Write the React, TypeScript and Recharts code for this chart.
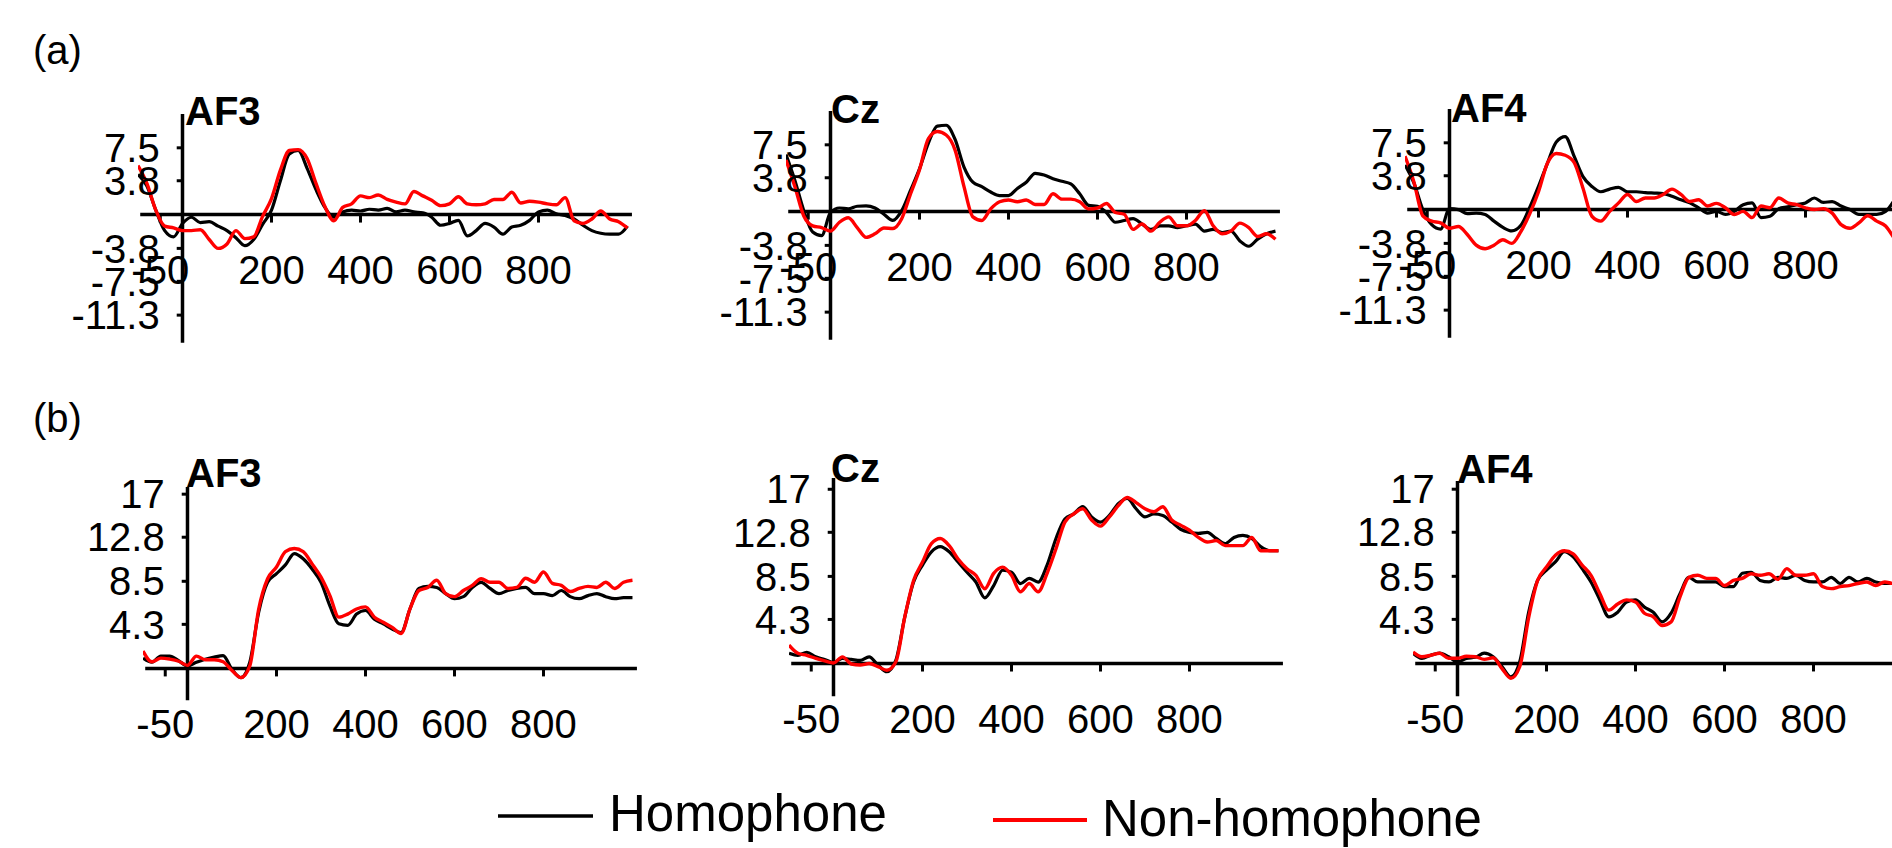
import React from 'react';
import { LineChart, Line, XAxis, YAxis, ReferenceLine } from 'recharts';

// time points (ms)
const times = [
  -100, -80, -60, -40, -20, 0, 20, 40,
  60, 80, 100, 120, 140, 160, 180, 200,
  220, 240, 260, 280, 300, 320, 340, 360,
  380, 400, 420, 440, 460, 480, 500, 520,
  540, 560, 580, 600, 620, 640, 660, 680,
  700, 720, 740, 760, 780, 800, 820, 840,
  860, 880, 900, 920, 940, 960, 980, 1000,
];

// (a) row
const aAF3Hom = [
  4.5, 3.2, 0.5, -1.8, -2.5, -1.0, -0.3, -0.9,
  -0.8, -1.3, -1.8, -2.6, -3.5, -2.8, -1.1, 0.5,
  3.8, 6.8, 7.2, 5.2, 2.8, 0.8, -0.3, 0.3,
  0.5, 0.4, 0.6, 0.5, 0.7, 0.3, 0.5, 0.3,
  0.2, -0.3, -1.2, -1.0, -0.65, -2.4, -1.8, -1.0,
  -1.4, -2.2, -1.4, -1.2, -0.65, 0.3, 0.5, 0.1,
  -0.1, -0.5, -1.2, -1.8, -2.1, -2.2, -2.2, -1.3,
];
const aAF3Non = [
  5.5, 3.5, 0.5, -1.3, -1.5, -1.8, -1.8, -1.7,
  -2.8, -3.8, -3.3, -1.8, -2.7, -2.5, -0.2, 1.8,
  5.0, 7.2, 7.3, 6.3, 3.5, 0.9, -0.7, 0.8,
  1.2, 2.1, 1.9, 2.2, 1.7, 1.4, 1.2, 2.6,
  2.1, 1.6, 1.0, 1.2, 2.0, 1.2, 1.1, 1.2,
  1.7, 1.7, 2.5, 1.3, 1.5, 1.4, 1.2, 1.1,
  1.9, -0.7, -1.0, -0.5, 0.4, -0.5, -0.8, -1.5,
];
const aCzHom = [
  6.4, 3.5, 0.1, -2.3, -2.7, -0.1, 0.4, 0.3,
  0.6, 0.65, 0.4, -0.3, -1.0, 0.1, 2.4, 4.8,
  7.7, 9.6, 9.7, 8.1, 5.0, 3.3, 2.8, 2.2,
  1.8, 1.8, 2.6, 3.3, 4.3, 4.1, 3.7, 3.4,
  3.1, 2.0, 0.7, 0.6, -0.1, -1.2, -1.0, -0.8,
  -1.4, -2.0, -1.6, -1.6, -1.8, -1.6, -1.4, -2.2,
  -2.0, -2.35, -2.2, -3.3, -3.9, -3.1, -2.5, -2.2,
];
const aCzNon = [
  5.8, 2.8, -0.5, -1.6, -1.8, -2.2, -1.2, -0.7,
  -1.8, -2.9, -2.5, -1.85, -1.9, -0.8, 2.0, 4.7,
  8.2, 9.0, 8.6, 6.9, 2.8, -0.6, -1.0, 0.3,
  1.1, 1.3, 1.1, 1.3, 0.8, 0.8, 2.0, 1.4,
  1.4, 1.1, 0.3, 0.4, 0.9, -0.1, -0.3, -2.0,
  -1.4, -2.2, -1.2, -0.6, -1.6, -1.6, -1.0, 0.1,
  -1.6, -2.5, -2.2, -1.3, -1.8, -2.8, -2.5, -3.1,
];
const aAF4Hom = [
  5.0, 3.0, 0.0, -1.7, -2.2, 0.1, 0.0, -0.45,
  -0.4, -0.55, -1.3, -2.0, -2.4, -1.8, 0.2, 2.6,
  5.2, 7.6, 8.2, 6.0, 3.7, 2.6, 2.0, 2.3,
  2.5, 2.0, 2.0, 1.9, 1.85, 1.8, 1.5, 1.1,
  0.75, 0.2, -0.4, -0.2, -0.55, -0.2, 0.55, 0.75,
  -0.9, -0.75, 0.1, 0.3, 0.55, 0.75, 1.3, 0.8,
  0.9, 0.4, 0.0, -0.55, -0.55, -0.55, -0.2, 1.1,
];
const aAF4Non = [
  6.0, 3.1, -0.7, -1.3, -1.5, -2.1, -1.9, -2.8,
  -4.0, -4.4, -4.0, -3.4, -3.8, -2.5, -0.5, 2.0,
  5.2, 6.3, 6.1, 5.3, 2.4, -0.75, -1.3, -0.2,
  0.75, 1.7, 0.9, 1.3, 1.3, 1.7, 2.3, 1.7,
  0.9, 1.1, 0.4, 0.7, 0.2, -0.55, -0.2, -0.9,
  0.4, 0.2, 1.3, 0.75, 0.55, 0.2, 0.0, 0.1,
  -0.4, -1.7, -2.1, -1.5, -0.7, -1.3, -1.85, -3.3,
];

// (b) row
const bAF3Hom = [
  1.0, 0.6, 1.2, 1.2, 0.75, 0.25, 0.6, 0.9,
  1.1, 1.25, -0.1, -0.9, 0.6, 5.5, 8.4, 9.25,
  10.1, 11.2, 10.7, 9.7, 8.4, 6.1, 4.35, 4.2,
  5.3, 5.65, 4.8, 4.35, 3.85, 3.5, 5.8, 7.8,
  8.0, 7.9, 7.3, 6.8, 7.0, 7.9, 8.4, 7.8,
  7.3, 7.6, 7.8, 7.9, 7.3, 7.3, 7.1, 7.6,
  7.0, 6.8, 7.1, 7.3, 7.0, 6.8, 6.9, 6.9,
];
const bAF3Non = [
  1.7, 0.65, 1.0, 0.9, 0.7, 0.3, 1.2, 0.85,
  0.85, 0.65, -0.2, -0.9, 0.25, 5.8, 8.75, 9.9,
  11.4, 11.7, 11.4, 10.2, 8.9, 7.1, 5.0, 5.3,
  5.8, 6.0, 5.0, 4.5, 4.0, 3.4, 5.8, 7.6,
  7.9, 8.6, 7.3, 7.0, 7.6, 8.1, 8.75, 8.4,
  8.4, 7.8, 7.9, 8.8, 8.4, 9.4, 8.3, 8.1,
  7.5, 7.8, 8.0, 7.9, 8.4, 7.8, 8.4, 8.6,
];
const bCzHom = [
  1.0, 0.8, 1.1, 0.65, 0.4, 0.1, 0.5, 0.4,
  0.3, 0.65, -0.15, -0.8, 0.3, 4.5, 7.95, 9.6,
  10.9, 11.4, 10.9, 9.9, 8.9, 7.95, 6.4, 7.6,
  9.1, 8.9, 7.8, 8.3, 7.95, 9.6, 12.2, 14.1,
  14.6, 15.3, 14.3, 13.8, 14.45, 15.6, 16.1, 15.1,
  14.3, 14.6, 14.45, 13.8, 13.1, 12.8, 12.7, 12.8,
  12.2, 11.7, 12.3, 12.5, 12.2, 11.4, 11.0, 11.0,
];
const bCzNon = [
  1.8, 1.0, 0.8, 0.5, 0.25, 0.05, 0.65, -0.05,
  -0.15, 0.0, -0.3, -0.65, 0.15, 4.5, 8.1, 9.9,
  11.7, 12.2, 11.5, 10.2, 9.25, 8.6, 7.3, 8.8,
  9.4, 8.6, 7.0, 7.8, 7.0, 8.8, 11.2, 13.8,
  14.6, 15.1, 14.0, 13.4, 14.3, 15.4, 16.2, 15.7,
  15.1, 14.8, 15.3, 14.0, 13.5, 13.0, 12.3, 11.85,
  12.0, 11.5, 11.5, 11.5, 12.3, 11.0, 11.0, 11.0,
];
const bAF4Hom = [
  1.0, 0.5, 0.8, 1.0, 0.65, 0.15, 0.5, 0.6,
  1.0, 0.65, -0.3, -1.3, 0.2, 5.0, 8.1, 9.1,
  9.9, 10.9, 10.4, 9.25, 7.95, 6.2, 4.55, 5.0,
  6.0, 6.2, 5.5, 5.0, 4.05, 4.9, 6.8, 8.4,
  7.95, 7.95, 7.95, 7.5, 7.5, 8.8, 8.9, 8.1,
  7.95, 8.4, 8.3, 8.6, 8.1, 7.95, 7.95, 8.4,
  7.8, 8.4, 7.95, 8.3, 7.95, 7.8, 7.8, 7.8,
];
const bAF4Non = [
  1.1, 0.65, 0.8, 1.0, 0.5, 0.5, 0.7, 0.65,
  0.4, 0.55, -0.5, -1.45, -0.3, 4.5, 8.1, 9.4,
  10.55, 11.0, 10.7, 9.6, 8.6, 6.8, 5.2, 5.8,
  6.2, 6.0, 4.9, 4.55, 3.7, 4.05, 6.5, 8.4,
  8.6, 8.3, 8.3, 7.6, 8.1, 8.3, 8.75, 8.6,
  8.75, 8.2, 9.25, 8.6, 8.6, 8.75, 7.5, 7.3,
  7.5, 7.6, 7.8, 7.95, 7.6, 7.95, 7.8, 7.8,
];

const xTicks = [-50, 200, 400, 600, 800];
const yTicksA = [7.5, 3.8, -3.8, -7.5, -11.3];
const yTicksB = [17, 12.8, 8.5, 4.3];
const channels = ['AF3', 'Cz', 'AF4'];
const seriesNames = ['Homophone', 'Non-homophone'];

const FONT = '"Liberation Sans", Arial, Helvetica, sans-serif';
const RED = '#ff0000';
const MS_PX = 0.445;
const X_MIN = -100;
const X_MAX = 1010;
const PLOT_W = (X_MAX - X_MIN) * MS_PX;
const M = { top: 30, right: 10, bottom: 80, left: 100 };

type Layout = { x0: number; zero: number; top: number; bottom: number; unit: number; titleX: number; titleY: number };

const layoutA: Layout[] = [
  { x0: 182, zero: 215, top: 11.3, bottom: -14.4, unit: 8.9, titleX: 185, titleY: 125 },
  { x0: 830, zero: 211.7, top: 11.3, bottom: -14.4, unit: 8.9, titleX: 831, titleY: 123 },
  { x0: 1449, zero: 210, top: 11.3, bottom: -14.4, unit: 8.9, titleX: 1451, titleY: 122 },
];
const layoutB: Layout[] = [
  { x0: 187, zero: 668.8, top: 17.7, bottom: -3.1, unit: 10.25, titleX: 186, titleY: 487 },
  { x0: 833, zero: 663.7, top: 18.1, bottom: -3.2, unit: 10.25, titleX: 831, titleY: 482 },
  { x0: 1457, zero: 663.3, top: 17.8, bottom: -3.2, unit: 10.25, titleX: 1457, titleY: 483 },
];

const labelStyle = { fill: '#000', fontSize: 40, fontFamily: FONT };

function Panel({ hom, non, yTicks, lay }: { hom: number[]; non: number[]; yTicks: number[]; lay: Layout }) {
  const data = times.map((t, i) => ({ t, hom: hom[i], non: non[i] }));
  const plotH = (lay.top - lay.bottom) * lay.unit;
  const left = lay.x0 + X_MIN * MS_PX - M.left;
  const top = lay.zero - lay.top * lay.unit - M.top;
  const tickDown = 8 / lay.unit;

  return (
    <div style={{ position: 'absolute', left, top }}>
      <LineChart width={PLOT_W + M.left + M.right} height={plotH + M.top + M.bottom} data={data} margin={M}>
        <XAxis type="number" dataKey="t" domain={[X_MIN, X_MAX]} allowDataOverflow hide />
        <YAxis type="number" domain={[lay.bottom, lay.top]} allowDataOverflow hide />
        <ReferenceLine
          segment={[{ x: -95, y: 0 }, { x: X_MAX, y: 0 }]}
          stroke="#000"
          strokeWidth={3.5}
          ifOverflow="visible"
        />
        <ReferenceLine
          segment={[{ x: 0, y: lay.bottom }, { x: 0, y: lay.top }]}
          stroke="#000"
          strokeWidth={3.5}
          ifOverflow="visible"
        />
        {yTicks.map((v) => (
          <ReferenceLine
            key={'y' + v}
            segment={[{ x: -13, y: v }, { x: 0, y: v }]}
            stroke="#000"
            strokeWidth={3}
            ifOverflow="visible"
            label={{ value: String(v), position: 'left', offset: 17, ...labelStyle }}
          />
        ))}
        {xTicks.map((v) => (
          <ReferenceLine
            key={'x' + v}
            segment={[{ x: v, y: 0 }, { x: v, y: -tickDown }]}
            stroke="#000"
            strokeWidth={3}
            ifOverflow="visible"
            label={{ value: String(v), position: 'bottom', offset: 33, ...labelStyle }}
          />
        ))}
        <Line type="monotone" dataKey="hom" name={seriesNames[0]} stroke="#000" strokeWidth={3.2} dot={false} isAnimationActive={false} />
        <Line type="monotone" dataKey="non" name={seriesNames[1]} stroke={RED} strokeWidth={3.4} dot={false} isAnimationActive={false} />
      </LineChart>
    </div>
  );
}

export default function App() {
  const rowA = [
    [aAF3Hom, aAF3Non],
    [aCzHom, aCzNon],
    [aAF4Hom, aAF4Non],
  ];
  const rowB = [
    [bAF3Hom, bAF3Non],
    [bCzHom, bCzNon],
    [bAF4Hom, bAF4Non],
  ];
  return (
    <div style={{ position: 'absolute', left: 0, top: 0, width: 1892, height: 848, overflow: 'hidden', background: '#fff' }}>
      {rowA.map(([h, n], i) => (
        <Panel key={'a' + i} hom={h} non={n} yTicks={yTicksA} lay={layoutA[i]} />
      ))}
      {rowB.map(([h, n], i) => (
        <Panel key={'b' + i} hom={h} non={n} yTicks={yTicksB} lay={layoutB[i]} />
      ))}
      <svg width={1892} height={848} style={{ position: 'absolute', left: 0, top: 0, pointerEvents: 'none' }}>
        <text x={33} y={64} fontSize={40} fontFamily={FONT} fill="#000">(a)</text>
        <text x={33} y={432} fontSize={40} fontFamily={FONT} fill="#000">(b)</text>
        {layoutA.map((l, i) => (
          <text key={'ta' + i} x={l.titleX} y={l.titleY} fontSize={40} fontWeight="bold" fontFamily={FONT} fill="#000">
            {channels[i]}
          </text>
        ))}
        {layoutB.map((l, i) => (
          <text key={'tb' + i} x={l.titleX} y={l.titleY} fontSize={40} fontWeight="bold" fontFamily={FONT} fill="#000">
            {channels[i]}
          </text>
        ))}
        <line x1={498} x2={593} y1={816} y2={816} stroke="#000" strokeWidth={3.5} />
        <text x={609} y={831} fontSize={51} fontFamily={FONT} fill="#000">{seriesNames[0]}</text>
        <line x1={993} x2={1087} y1={820} y2={820} stroke={RED} strokeWidth={4} />
        <text x={1102} y={836} fontSize={51} fontFamily={FONT} fill="#000">{seriesNames[1]}</text>
      </svg>
    </div>
  );
}
